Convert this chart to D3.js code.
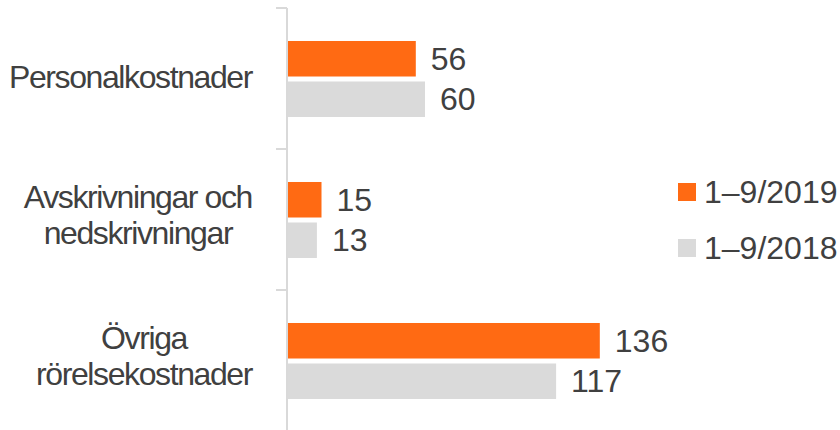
<!DOCTYPE html>
<html>
<head>
<meta charset="utf-8">
<script src="https://cdn.jsdelivr.net/npm/d3@7"></script>
<style>
  body { margin: 0; background: #fff; }
  text { font-family: "Liberation Sans", Arial, sans-serif; fill: #404040; }
</style>
</head>
<body>
<div id="viz"></div>
<script>
// chart data
const categories = [
  ["Personalkostnader"],
  ["Avskrivningar och", "nedskrivningar"],
  ["Övriga", "rörelsekostnader"]
];
const seriesNames = ["1–9/2019", "1–9/2018"];
const values2019 = [56, 15, 136];
const values2018 = [60, 13, 117];
const colors = ["#ff6a13", "#dadada"];

const width = 840, height = 430;

const svg = d3.select("#viz")
  .append("svg")
  .attr("width", width)
  .attr("height", height);

const keys = categories.map((c, i) => i);

const x = d3.scaleLinear().domain([0, 100]).range([287, 517]);

const y = d3.scaleBand()
  .domain(keys)
  .range([8, 431]);

const bw = y.bandwidth();
const ySeries = d3.scaleBand()
  .domain(seriesNames)
  .range([bw * 0.234, bw * 0.773])
  .paddingInner(0.123);

const rows = keys.map(i => ({
  i: i,
  vals: [values2019[i], values2018[i]]
}));

// axis line + ticks at band edges
const axisColor = "#d9d9d9";
svg.append("line")
  .attr("x1", x(0)).attr("x2", x(0))
  .attr("y1", y.range()[0]).attr("y2", y.range()[1])
  .style("stroke", axisColor)
  .style("stroke-width", 2);

const tickYs = keys.map(k => y(k)).concat([y.range()[1]]);
svg.selectAll("line.tick")
  .data(tickYs)
  .enter()
  .append("line")
  .attr("class", "tick")
  .attr("x1", x(0) - 11).attr("x2", x(0))
  .attr("y1", d => d).attr("y2", d => d)
  .style("stroke", axisColor)
  .style("stroke-width", 2);

// bars
const g = svg.selectAll("g.row")
  .data(rows)
  .enter()
  .append("g")
  .attr("class", "row")
  .attr("transform", d => `translate(0,${y(d.i)})`);

g.selectAll("rect")
  .data(d => d.vals.map((v, j) => ({ v: v, s: seriesNames[j], j: j })))
  .enter()
  .append("rect")
  .attr("x", x(0) + 1)
  .attr("y", d => ySeries(d.s))
  .attr("width", d => x(d.v) - x(0) - 1)
  .attr("height", ySeries.bandwidth())
  .attr("fill", d => colors[d.j]);

g.selectAll("text.val")
  .data(d => d.vals.map((v, j) => ({ v: v, s: seriesNames[j] })))
  .enter()
  .append("text")
  .attr("class", "val")
  .attr("x", d => x(d.v) + 15)
  .attr("y", d => ySeries(d.s) + ySeries.bandwidth() / 2)
  .attr("dy", "0.35em")
  .style("font-size", "32px")
  .text(d => d.v);

// category labels, centred lines, right edge near the axis
const labelRight = 252;
const lineH = 36;
rows.forEach(r => {
  const lines = categories[r.i];
  const cy = y(r.i) + bw / 2 + 9;
  const t = svg.append("text")
    .style("font-size", "32px")
    .style("letter-spacing", "-1.4px")
    .attr("text-anchor", "middle");
  const spans = lines.map((l, k) => t.append("tspan")
    .attr("y", cy + (k - (lines.length - 1) / 2) * lineH - (lines.length > 1 ? 3 : 0))
    .text(l));
  let maxW = 0;
  spans.forEach(s => { maxW = Math.max(maxW, s.node().getComputedTextLength()); });
  spans.forEach(s => s.attr("x", labelRight - maxW / 2));
});

// legend
const legend = svg.selectAll("g.legend")
  .data(seriesNames)
  .enter()
  .append("g")
  .attr("class", "legend")
  .attr("transform", (d, i) => `translate(678,${192 + i * 56})`);

legend.append("rect")
  .attr("x", 0).attr("y", -9)
  .attr("width", 18).attr("height", 18)
  .attr("fill", (d, i) => colors[i]);

legend.append("text")
  .attr("x", 26)
  .attr("dy", "0.35em")
  .style("font-size", "32px")
  .text(d => d);
</script>
</body>
</html>
